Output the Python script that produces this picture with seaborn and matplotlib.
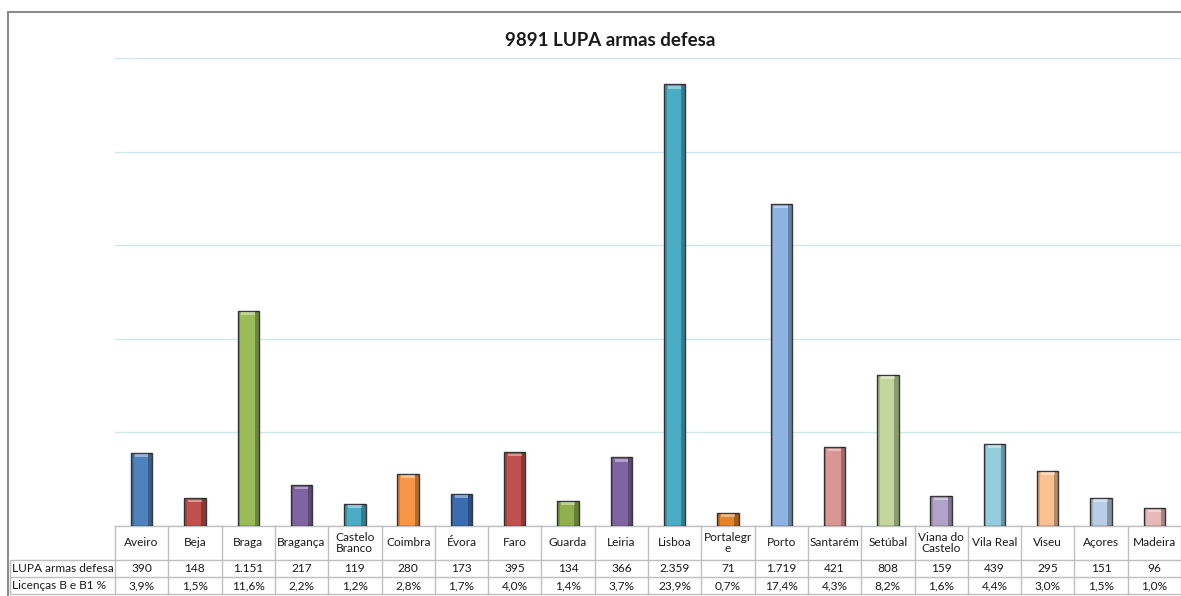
import matplotlib
matplotlib.use("Agg")
import matplotlib.pyplot as plt
import seaborn as sns
import pandas as pd
from matplotlib.patches import Rectangle
from matplotlib.lines import Line2D

categories = ["Aveiro", "Beja", "Braga", "Bragança", "Castelo\nBranco", "Coimbra",
              "Évora", "Faro", "Guarda", "Leiria", "Lisboa", "Portalegr\ne", "Porto",
              "Santarém", "Setúbal", "Viana do\nCastelo", "Vila Real", "Viseu",
              "Açores", "Madeira"]
lupa = [390, 148, 1151, 217, 119, 280, 173, 395, 134, 366, 2359, 71, 1719,
        421, 808, 159, 439, 295, 151, 96]
licencas_pct = [3.9, 1.5, 11.6, 2.2, 1.2, 2.8, 1.7, 4.0, 1.4, 3.7, 23.9, 0.7, 17.4,
                4.3, 8.2, 1.6, 4.4, 3.0, 1.5, 1.0]
colors = ["#4F81BD", "#C0504D", "#9BBB59", "#8064A2", "#4BACC6", "#F79646",
          "#3C6CB0", "#C0504D", "#8FB04C", "#8064A2", "#4BACC6", "#E48328",
          "#8DB3E2", "#D99694", "#C3D69B", "#B3A2C7", "#93CDDD", "#FAC090",
          "#B9CDE5", "#E6B9B8"]
title = "9891 LUPA armas defesa"
row_labels = ["LUPA armas defesa", "Licenças B e B1 %"]

sns.set_theme(style="white")
plt.rcParams["font.family"] = ["Lato", "DejaVu Sans"]

W, H = 1181, 596
fig = plt.figure(figsize=(W / 100, H / 100), dpi=100)
fig.patch.set_facecolor("white")

def fx(px):
    return px / W

def fy(py):
    return 1 - py / H

ax_left, ax_right, ax_top, ax_bot = 115, 1181, 58, 526
ax = fig.add_axes([fx(ax_left), fy(ax_bot), (ax_right - ax_left) / W, (ax_bot - ax_top) / H])

df = pd.DataFrame({"cat": categories, "val": lupa})
sns.barplot(data=df, x="cat", y="val", hue="cat", palette=colors, legend=False,
            saturation=1, width=0.4, edgecolor="#3a3a3a", linewidth=1.0, ax=ax, zorder=3)

# bevel-like shading on the bars
bars = list(ax.patches)
for p in bars:
    x0, w, h = p.get_x(), p.get_width(), p.get_height()
    ax.add_patch(Rectangle((x0 + w * 0.80, 0), w * 0.2, h, facecolor="black",
                           alpha=0.28, linewidth=0, zorder=4))
    ax.add_patch(Rectangle((x0, 0), w * 0.12, h, facecolor="black",
                           alpha=0.15, linewidth=0, zorder=4))
    ax.add_patch(Rectangle((x0 + w * 0.18, max(h - 22, 0)), w * 0.64, min(14, h * 0.5),
                           facecolor="white", alpha=0.4, linewidth=0, zorder=4))

ax.set_xlim(-0.5, len(categories) - 0.5)
ax.set_ylim(0, 2500)
ax.set_yticks([0, 500, 1000, 1500, 2000, 2500])
ax.yaxis.grid(True, color="#CDE6EE", linewidth=1.0)
ax.set_axisbelow(True)
ax.set_yticklabels([])
ax.tick_params(left=False, bottom=False)
ax.set_xticks([])
ax.set_xlabel("")
ax.set_ylabel("")
for s in ax.spines.values():
    s.set_visible(False)

# title
fig.text(fx(610), fy(40), title, ha="center", va="center",
         fontsize=13.5, fontweight="bold", color="#1a1a1a")

# outer border
fig.add_artist(Rectangle((fx(8), fy(700)), 2, fy(12) - fy(700), transform=fig.transFigure,
                         fill=False, edgecolor="#8C8C8C", linewidth=1.5))

# data table
trans = ax.get_xaxis_transform()
axh = ax_bot - ax_top
def ay(py):
    return -(py - ax_bot) / axh

grid_c = "#BFBFBF"
n = len(categories)
lab_left = -0.5 - (ax_left - 10) / ((ax_right - ax_left) / n)
rows_y = [526, 560, 577, 594]
ax.add_line(Line2D([-0.5, n - 0.5], [ay(526), ay(526)], transform=trans, color=grid_c,
                   lw=1, clip_on=False))
for yy in rows_y[1:]:
    ax.add_line(Line2D([lab_left, n - 0.5], [ay(yy), ay(yy)], transform=trans, color=grid_c,
                       lw=1, clip_on=False))
for i in range(n + 1):
    xx = -0.5 + i
    ax.add_line(Line2D([xx, xx], [ay(526), ay(594)], transform=trans, color=grid_c,
                       lw=1, clip_on=False))
ax.add_line(Line2D([lab_left, lab_left], [ay(560), ay(594)], transform=trans, color=grid_c,
                   lw=1, clip_on=False))

fs = 8.6
for i, (c, v, pc) in enumerate(zip(categories, lupa, licencas_pct)):
    ax.text(i, ay(543), c, transform=trans, ha="center", va="center", fontsize=fs,
            color="#1a1a1a", linespacing=1.05, clip_on=False)
    ax.text(i, ay(568.5), f"{v:,}".replace(",", "."), transform=trans, ha="center",
            va="center", fontsize=fs, color="#1a1a1a", clip_on=False)
    ax.text(i, ay(585.5), f"{pc:.1f}%".replace(".", ","), transform=trans, ha="center",
            va="center", fontsize=fs, color="#1a1a1a", clip_on=False)
for k, lab in enumerate(row_labels):
    ax.text(lab_left + 0.03, ay([568.5, 585.5][k]), lab, transform=trans, ha="left",
            va="center", fontsize=fs, color="#1a1a1a", clip_on=False)

fig.savefig("out.png", dpi=100, facecolor="white")
